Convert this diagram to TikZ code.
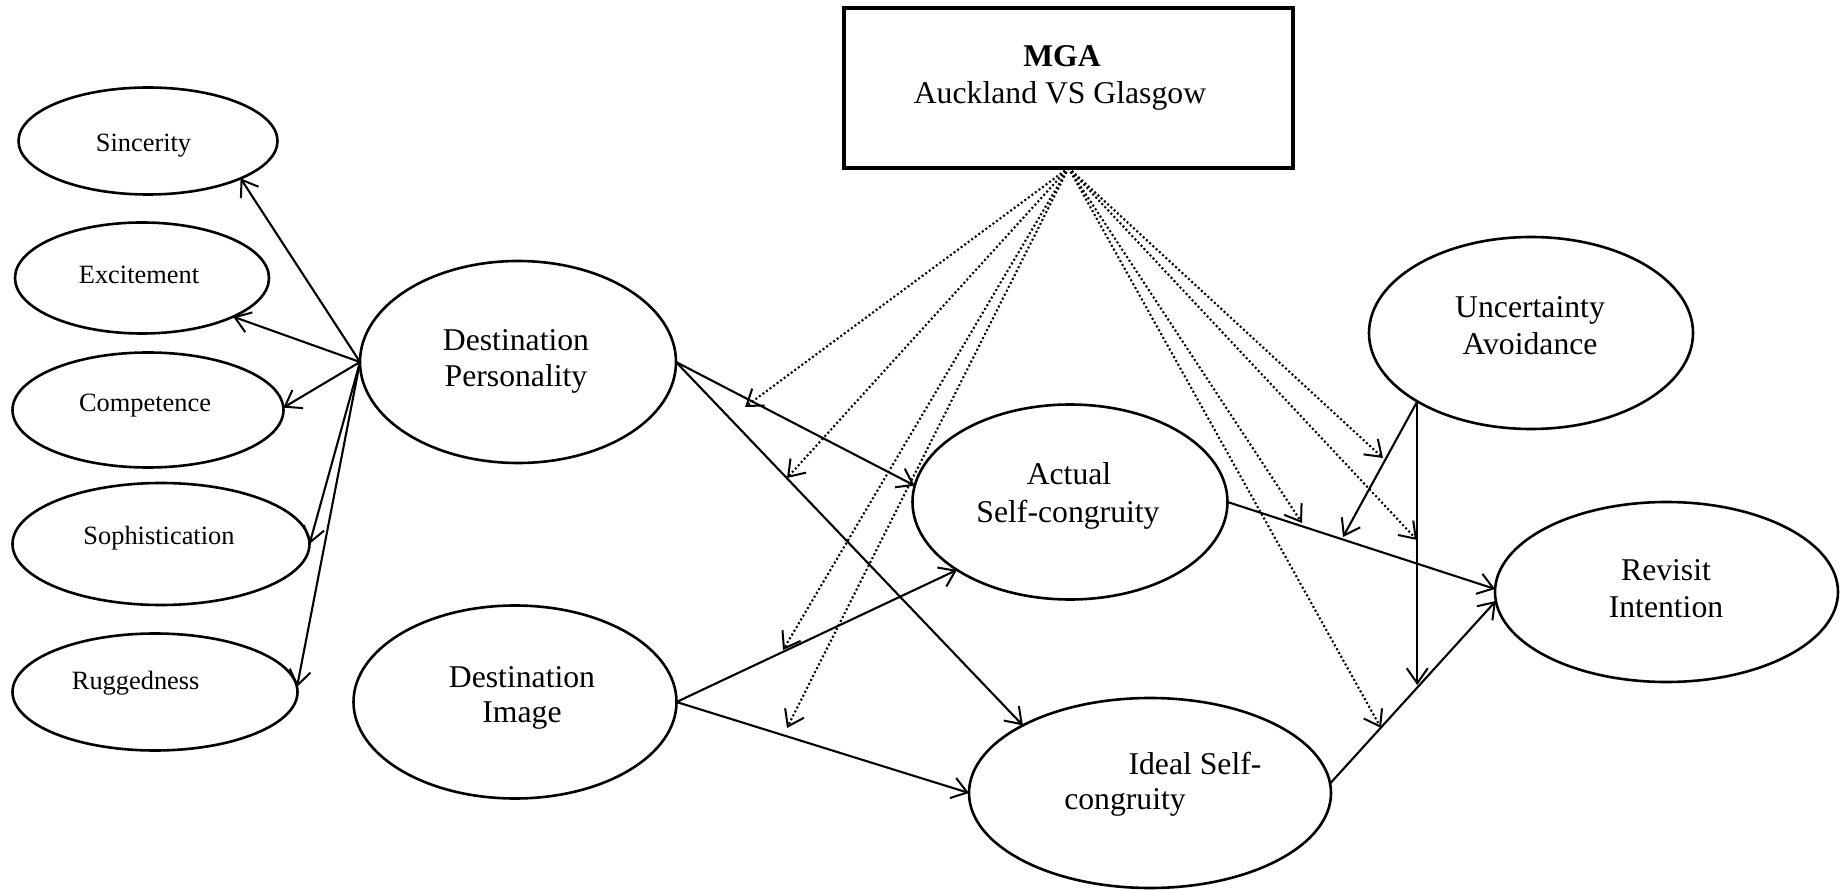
\documentclass[tikz,border=0pt]{standalone}
\usepackage{fontspec}
\setmainfont{Liberation Serif}
\usetikzlibrary{arrows.meta,shapes.geometric}
\begin{document}
\begin{tikzpicture}[x=1pt,y=-1pt,
  >={Straight Barb[length=15pt,width=21pt,line width=2pt]},
  ell/.style={draw,ellipse,line width=2.6pt,inner sep=0pt,outer sep=0pt},
  big/.style={font=\fontsize{31.7}{37}\selectfont,anchor=base,inner sep=0pt},
  bigbold/.style={font=\fontsize{31.7}{37}\selectfont\bfseries,anchor=base,inner sep=0pt},
  small/.style={font=\fontsize{26.4}{30}\selectfont,anchor=base,inner sep=0pt},
  conn/.style={->,line width=2.1pt},
  mod/.style={->,line width=2.1pt,dash pattern=on 2pt off 2.4pt},
]
\fill[white] (0,0) rectangle (1840,890);
\useasboundingbox (0,0) rectangle (1840,890);

% MGA box
\node[draw,line width=3.4pt,minimum width=449pt,minimum height=160pt,inner sep=0pt,outer sep=0pt] (mga) at (1068.5,88) {};
\node[bigbold] (mgat1) at (1062,67) {MGA};
\node[big] (mgat2) at (1060,104) {Auckland VS Glasgow};

% dimension ellipses
\node[ell,minimum width=259pt,minimum height=107pt] (sinc) at (148,141) {};
\node[small] (sinct) at (143.5,151.4) {Sincerity};
\node[ell,minimum width=254pt,minimum height=111pt] (exc) at (142,278) {};
\node[small] (exct) at (139,283.5) {Excitement};
\node[ell,minimum width=271pt,minimum height=115pt] (comp) at (148,410) {};
\node[small] (compt) at (145,412) {Competence};
\node[ell,minimum width=297pt,minimum height=122pt] (soph) at (161,544) {};
\node[small] (sopht) at (159,544.5) {Sophistication};
\node[ell,minimum width=285pt,minimum height=117pt] (rugg) at (155,692) {};
\node[small] (ruggt) at (135.7,689.5) {Ruggedness};

% constructs
\node[ell,minimum width=316pt,minimum height=202pt] (dp) at (518,362) {};
\node[big] (dpt1) at (516,350.7) {Destination};
\node[big] (dpt2) at (516,386.7) {Personality};

\node[ell,minimum width=323pt,minimum height=193pt] (di) at (515,702) {};
\node[big] (dit1) at (522,687) {Destination};
\node[big] (dit2) at (522,722.7) {Image};

\node[ell,minimum width=315pt,minimum height=195pt] (asc) at (1070,502) {};
\node[big] (asct1) at (1069,485) {Actual};
\node[big] (asct2) at (1068,522) {Self-congruity};

\node[ell,minimum width=362pt,minimum height=190pt] (isc) at (1150,793) {};
\node[big] (isct1) at (1195,774) {Ideal Self-};
\node[big] (isct2) at (1125,809) {congruity};

\node[ell,minimum width=324pt,minimum height=192pt] (ua) at (1531,333) {};
\node[big] (uat1) at (1530,318) {Uncertainty};
\node[big] (uat2) at (1530,355) {Avoidance};

\node[ell,minimum width=343pt,minimum height=180pt] (ri) at (1666.5,592) {};
\node[big] (rit1) at (1666,580) {Revisit};
\node[big] (rit2) at (1666,617) {Intention};

% free ends of connectors that stop on other connectors
\coordinate (d1) at (745,407);
\coordinate (d2) at (787,478);
\coordinate (d3) at (783,650);
\coordinate (d4) at (787,728);
\coordinate (d5) at (1383,458);
\coordinate (d6) at (1302,523);
\coordinate (d7) at (1417,540);
\coordinate (d8) at (1381,728);
\coordinate (u1) at (1343,537);
\coordinate (u2) at (1418,685);

% measurement model
\draw[conn] (dp.west) -- (sinc.-22);
\draw[conn] (dp.west) -- (exc.-23);
\draw[conn] (dp.west) -- (comp.1);
\draw[conn] (dp.west) -- (soph.east);
\draw[conn] (dp.west) -- (rugg.2);

% structural paths
\draw[conn] (dp.east) -- (asc.174);
\draw[conn] (dp.east) -- (isc.152);
\draw[conn] (di.east) -- (asc.211);
\draw[conn] (di.east) -- (isc.west);
\draw[conn] (asc.east) -- (ri.179);
\draw[conn] (isc.3) -- (ri.183.5);

% uncertainty avoidance moderation
\draw[conn] (ua.211) -- (u1);
\draw[conn] (ua.211) -- (ua.211 |- u2);

% MGA moderation (dotted)
\draw[mod] (mga.south) -- (d1);
\draw[mod] (mga.south) -- (d2);
\draw[mod] (mga.south) -- (d3);
\draw[mod] (mga.south) -- (d4);
\draw[mod] (mga.south) -- (d5);
\draw[mod] (mga.south) -- (d6);
\draw[mod] (mga.south) -- (d7);
\draw[mod] (mga.south) -- (d8);
\end{tikzpicture}
\end{document}
